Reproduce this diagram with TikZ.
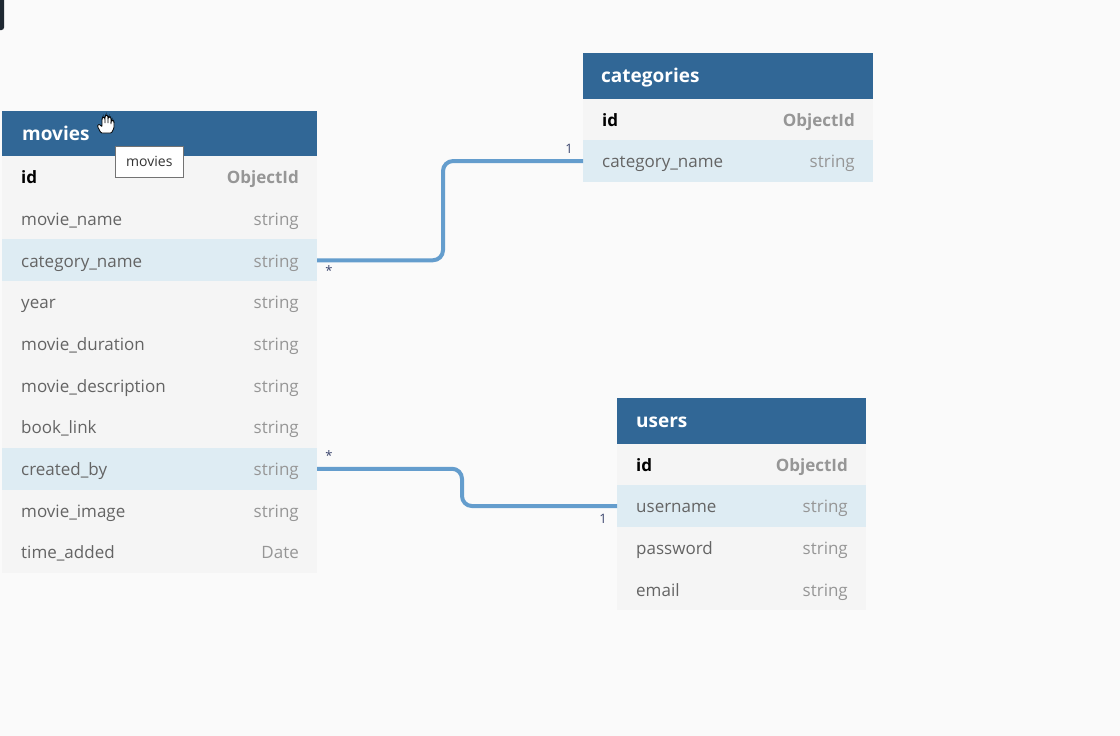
\documentclass[tikz,border=0pt]{standalone}
\usepackage{fontspec}
\setmainfont{Open Sans}
\usetikzlibrary{calc}

\definecolor{bg}{RGB}{250,250,250}
\definecolor{hdrblue}{RGB}{49,103,150}
\definecolor{rowgray}{RGB}{245,245,245}
\definecolor{rowblue}{RGB}{222,236,243}
\definecolor{fieldtxt}{RGB}{100,100,100}
\definecolor{typetxt}{RGB}{150,150,150}
\definecolor{linkblue}{RGB}{100,157,205}
\definecolor{multtxt}{RGB}{60,70,110}
\definecolor{darkbar}{RGB}{30,40,50}

\tikzset{
  tbl/.style={rectangle, anchor=north west, inner sep=0pt, outer sep=0pt,
    minimum height=41.7pt},
  hdr/.style={tbl, fill=hdrblue, minimum height=45.5pt},
  row/.style={tbl, fill=rowgray},
  hrow/.style={tbl, fill=rowblue},
  title/.style={anchor=base west, inner sep=0pt, text=white,
    font=\bfseries\fontsize{19}{22}\selectfont},
  fname/.style={anchor=base west, inner sep=0pt, text=fieldtxt,
    font=\fontsize{17}{20}\selectfont},
  ftype/.style={anchor=base east, inner sep=0pt, text=typetxt,
    font=\fontsize{17}{20}\selectfont},
  keyname/.style={fname, text=black, font=\bfseries\fontsize{17}{20}\selectfont},
  keytype/.style={ftype, font=\bfseries\fontsize{17}{20}\selectfont},
  link/.style={draw=linkblue, line width=4pt, rounded corners=10pt},
  mult/.style={inner sep=0pt, text=multtxt, font=\fontsize{13}{15}\selectfont},
  tipbox/.style={draw=black!55, fill=white, line width=0.6pt, anchor=north west,
    minimum width=68pt, minimum height=31pt, inner sep=0pt, text=black!80,
    font=\fontsize{14}{16}\selectfont},
}

% one table row: style, node name, field, type, field style, type style, width
\newcommand{\tabrow}[7]{%
  \node[#1, minimum width=#7pt] (#2) {};
  \node[#5] at ([xshift=19pt,yshift=-6.8pt]#2.west) {#3};
  \node[#6] at ([xshift=-18pt,yshift=-6.8pt]#2.east) {#4};
}

\begin{document}
\begin{tikzpicture}[x=1pt, y=-1pt]
  \fill[bg] (0,0) rectangle (1120,736);
  \useasboundingbox (0,0) rectangle (1120,736);

  % partly hidden panel at the top-left corner
  \fill[darkbar, rounded corners=2.5pt] (-6,-6) rectangle (4,30);

  % ---------- movies ----------
  \node[hdr, minimum width=315pt] (m-h) at (2,110.5) {};
  \node[title] (m-t) at ([xshift=20pt,yshift=-7pt]m-h.west) {movies};
  \tabrow{row, at=(m-h.south west)}{m-id}{id}{ObjectId}{keyname}{keytype}{315}
  \tabrow{row, at=(m-id.south west)}{m-name}{movie\_name}{string}{fname}{ftype}{315}
  \tabrow{hrow, at=(m-name.south west)}{m-cat}{category\_name}{string}{fname}{ftype}{315}
  \tabrow{row, at=(m-cat.south west)}{m-year}{year}{string}{fname}{ftype}{315}
  \tabrow{row, at=(m-year.south west)}{m-dur}{movie\_duration}{string}{fname}{ftype}{315}
  \tabrow{row, at=(m-dur.south west)}{m-desc}{movie\_description}{string}{fname}{ftype}{315}
  \tabrow{row, at=(m-desc.south west)}{m-book}{book\_link}{string}{fname}{ftype}{315}
  \tabrow{hrow, at=(m-book.south west)}{m-crt}{created\_by}{string}{fname}{ftype}{315}
  \tabrow{row, at=(m-crt.south west)}{m-img}{movie\_image}{string}{fname}{ftype}{315}
  \tabrow{row, at=(m-img.south west)}{m-time}{time\_added}{Date}{fname}{ftype}{315}

  % ---------- categories ----------
  \node[hdr, minimum width=290pt] (c-h) at (583,53) {};
  \node[title] (c-t) at ([xshift=18pt,yshift=-7pt]c-h.west) {categories};
  \tabrow{row, at=(c-h.south west)}{c-id}{id}{ObjectId}{keyname}{keytype}{290}
  \tabrow{hrow, at=(c-id.south west)}{c-cat}{category\_name}{string}{fname}{ftype}{290}

  % ---------- users ----------
  \node[hdr, minimum width=249pt] (u-h) at (617,398) {};
  \node[title] (u-t) at ([xshift=19pt,yshift=-7pt]u-h.west) {users};
  \tabrow{row, at=(u-h.south west)}{u-id}{id}{ObjectId}{keyname}{keytype}{249}
  \tabrow{hrow, at=(u-id.south west)}{u-usr}{username}{string}{fname}{ftype}{249}
  \tabrow{row, at=(u-usr.south west)}{u-pwd}{password}{string}{fname}{ftype}{249}
  \tabrow{row, at=(u-pwd.south west)}{u-mail}{email}{string}{fname}{ftype}{249}

  % ---------- relations ----------
  \draw[link] (m-cat.east) -- ++(126,0) |- (c-cat.west);
  \draw[link] (m-crt.east) -- ++(145,0) |- (u-usr.west);

  \node[mult] (m1) at ([xshift=12pt,yshift=-10pt]m-cat.east) {*};
  \node[mult] (c1) at ([xshift=-14pt,yshift=12pt]c-cat.west) {1};
  \node[mult] (m2) at ([xshift=12pt,yshift=13pt]m-crt.east) {*};
  \node[mult] (u1) at ([xshift=-14pt,yshift=-13pt]u-usr.west) {1};

  % tooltip over the movies table
  \node[tipbox] (tip) at (115,146) {movies};

  % pointer hand over the movies header
  \begin{scope}[shift={(97,115)}]
    \filldraw[fill=white, draw=black, line width=0.8pt, rounded corners=1pt]
      (4,18) -- (0.5,11.5) -- (1,9.5) -- (3,9.5) -- (5,12)
      -- (5,4) -- (5.8,2.2) -- (7.3,2.2) -- (8,4) -- (8,9)
      -- (8,2) -- (8.8,0.2) -- (10.3,0.2) -- (11,2) -- (11,9)
      -- (11,3.5) -- (11.8,1.8) -- (13.3,1.8) -- (14,3.5) -- (14,10)
      -- (14,7) -- (14.8,5.3) -- (16.3,5.3) -- (17,7) -- (17,13)
      -- (14.5,18) -- cycle;
  \end{scope}
\end{tikzpicture}
\end{document}
